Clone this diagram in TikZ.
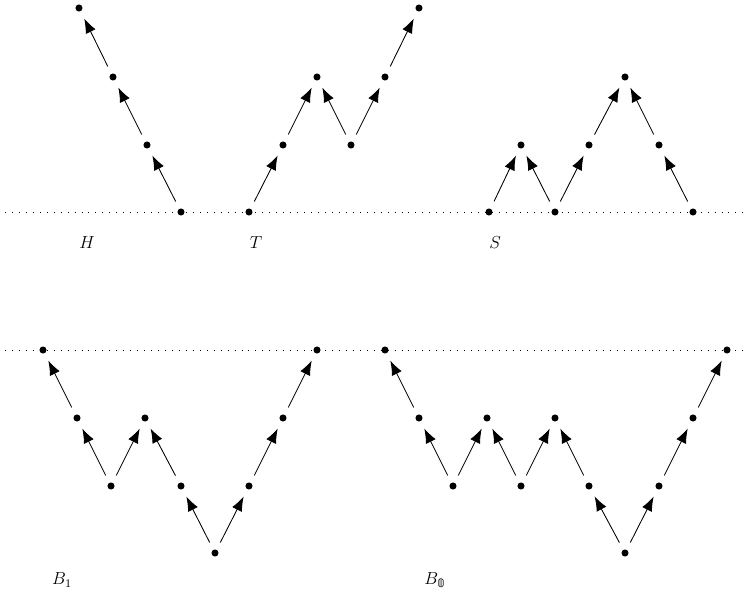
\documentclass[tikz,border=0pt]{standalone}
\usepackage{fontspec}
\newfontfamily\dvsfont{DejaVu Sans}
\usetikzlibrary{arrows.meta}
\begin{document}
\begin{tikzpicture}[x=0.69pt,y=-0.69pt,
  pt/.style={circle,fill=black,inner sep=0pt,minimum size=4.9pt},
  up/.style={-{Latex[length=10pt,width=7.5pt]},line width=0.6pt,shorten <=5.5pt,shorten >=5.5pt},
  base/.style={line width=0.6pt,dash pattern=on 0.6pt off 4.2pt},
  lab/.style={font=\large}]
\useasboundingbox (0,0) rectangle (753,600);
\coordinate (l1a) at (5,212); \coordinate (l1b) at (748,212);
\coordinate (l2a) at (5,350); \coordinate (l2b) at (748,350);
\draw[base] (l1a) -- (l1b);
\draw[base] (l2a) -- (l2b);
% H
\node[pt] (h0) at (181,212) {};
\node[pt] (h1) at (147,145) {};
\node[pt] (h2) at (113,77) {};
\node[pt] (h3) at (79,8) {};
\draw[up] (h0) -- (h1); \draw[up] (h1) -- (h2); \draw[up] (h2) -- (h3);
% T
\node[pt] (t0) at (249,212) {};
\node[pt] (t1) at (283,145) {};
\node[pt] (t2) at (317,77) {};
\node[pt] (t3) at (351,145) {};
\node[pt] (t4) at (385,77) {};
\node[pt] (t5) at (419,8) {};
\draw[up] (t0) -- (t1); \draw[up] (t1) -- (t2); \draw[up] (t3) -- (t2);
\draw[up] (t3) -- (t4); \draw[up] (t4) -- (t5);
% S
\node[pt] (s0) at (489,212) {};
\node[pt] (s1) at (521,145) {};
\node[pt] (s2) at (555,212) {};
\node[pt] (s3) at (589,145) {};
\node[pt] (s4) at (625,77) {};
\node[pt] (s5) at (659,145) {};
\node[pt] (s6) at (693,212) {};
\draw[up] (s0) -- (s1); \draw[up] (s2) -- (s1); \draw[up] (s2) -- (s3);
\draw[up] (s3) -- (s4); \draw[up] (s6) -- (s5); \draw[up] (s5) -- (s4);
\node[lab] (lH) at (87,243) {$H$};
\node[lab] (lT) at (256,243) {$T$};
\node[lab] (lS) at (495,243) {$S$};
% B1
\node[pt] (a0) at (43,350) {};
\node[pt] (a1) at (77,418) {};
\node[pt] (a2) at (111,486) {};
\node[pt] (a3) at (145,418) {};
\node[pt] (a4) at (181,486) {};
\node[pt] (a5) at (215,553) {};
\node[pt] (a6) at (249,486) {};
\node[pt] (a7) at (283,418) {};
\node[pt] (a8) at (317,350) {};
\draw[up] (a1) -- (a0); \draw[up] (a2) -- (a1); \draw[up] (a2) -- (a3);
\draw[up] (a4) -- (a3); \draw[up] (a5) -- (a4); \draw[up] (a5) -- (a6);
\draw[up] (a6) -- (a7); \draw[up] (a7) -- (a8);
% B0
\node[pt] (b0) at (385,350) {};
\node[pt] (b1) at (419,418) {};
\node[pt] (b2) at (453,486) {};
\node[pt] (b3) at (487,418) {};
\node[pt] (b4) at (521,486) {};
\node[pt] (b5) at (555,418) {};
\node[pt] (b6) at (589,486) {};
\node[pt] (b7) at (625,553) {};
\node[pt] (b8) at (659,486) {};
\node[pt] (b9) at (693,418) {};
\node[pt] (b10) at (727,350) {};
\draw[up] (b1) -- (b0); \draw[up] (b2) -- (b1); \draw[up] (b2) -- (b3);
\draw[up] (b4) -- (b3); \draw[up] (b4) -- (b5); \draw[up] (b6) -- (b5);
\draw[up] (b7) -- (b6); \draw[up] (b7) -- (b8); \draw[up] (b8) -- (b9);
\draw[up] (b9) -- (b10);
\node[lab] (lB1) at (62,580) {$B_1$};
\node[lab] (lB0) at (435,580) {$B_{\mbox{\footnotesize\dvsfont 𝟘}}$};
\end{tikzpicture}
\end{document}
